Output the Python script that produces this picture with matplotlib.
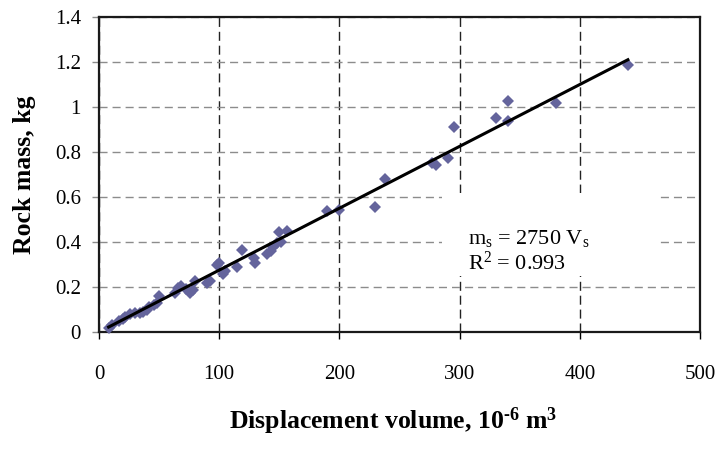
import numpy as np
import matplotlib
matplotlib.use("Agg")
import matplotlib.pyplot as plt
from matplotlib.patches import Rectangle
from matplotlib.ticker import FuncFormatter

plt.rcParams['font.family'] = ['Liberation Serif', 'DejaVu Serif']
plt.rcParams['mathtext.fontset'] = 'custom'
plt.rcParams['mathtext.rm'] = 'Liberation Serif'
plt.rcParams['mathtext.bf'] = 'Liberation Serif:bold'
plt.rcParams['mathtext.it'] = 'Liberation Serif:italic'

# displacement volume (1e-6 m^3) and rock mass (kg)
vol = [8, 11, 17, 20, 22, 26, 30, 34, 37, 40, 42, 46, 48, 50,
       63, 66, 68, 72, 76, 78, 80, 90, 92, 98, 100, 103, 105, 115,
       119, 129, 130, 140, 143, 145, 148, 150, 151, 156,
       190, 200, 230, 238, 277, 280, 290, 295, 330, 340, 340, 380, 440]
mass = [0.02, 0.03, 0.05, 0.06, 0.065, 0.08, 0.085, 0.085, 0.09, 0.10, 0.11, 0.12, 0.13, 0.16,
        0.175, 0.195, 0.205, 0.19, 0.175, 0.185, 0.225, 0.22, 0.228, 0.30, 0.305, 0.258, 0.27, 0.29,
        0.365, 0.33, 0.305, 0.345, 0.36, 0.38, 0.395, 0.445, 0.40, 0.45,
        0.538, 0.542, 0.555, 0.678, 0.75, 0.744, 0.775, 0.91, 0.95, 1.025, 0.937, 1.016, 1.185]

slope = 2750  # kg/m^3
xticks = [0, 100, 200, 300, 400, 500]
yticks = [0, 0.2, 0.4, 0.6, 0.8, 1.0, 1.2, 1.4]

fig = plt.figure(figsize=(7.15, 4.59), dpi=100)
ax = fig.add_axes([99/715, 1-332/459, 601/715, 315/459])

ax.set_xlim(0, 500)
ax.set_ylim(0, 1.4)
ax.set_xticks(xticks)
ax.set_yticks(yticks)
fmt = FuncFormatter(lambda v, p: '%g' % v)
ax.xaxis.set_major_formatter(fmt)
ax.yaxis.set_major_formatter(fmt)

ax.set_axisbelow(True)
ax.xaxis.grid(True, color='#222222', lw=1.0, ls=(0, (6.5, 3.5)))
ax.yaxis.grid(True, color='#8c8c8c', lw=1.0, ls=(0, (5.8, 3.6)))

for s in ax.spines.values():
    s.set_linewidth(1.6)
    s.set_color('#1a1a1a')

ax.tick_params(axis='x', direction='out', length=5, width=1, color='black',
               labelsize=15, pad=19)
ax.tick_params(axis='y', direction='out', length=5, width=1, color='#8c8c8c',
               labelsize=15, pad=8)

# white label box that hides the grid behind the equation
ax.add_patch(Rectangle((285, 0.25), 178, 0.37, facecolor='white',
                       edgecolor='none', zorder=1))

ax.plot(vol, mass, ls='none', marker='D', ms=6.3, mew=0, color='#64649c',
        zorder=3, clip_on=False)

xfit = np.array([min(vol), max(vol)])
ax.plot(xfit, slope * xfit * 1e-6, color='black', lw=2.2, zorder=4)

ax.text(307, 0.39, r'm$_\mathrm{s}$ = 2750 V$_\mathrm{s}$', fontsize=16,
        ha='left', va='baseline', zorder=5)
ax.text(307, 0.275, r'R$^\mathrm{2}$ = 0.993', fontsize=16,
        ha='left', va='baseline', zorder=5)

fig.text(25/715, 1-175/459, 'Rock mass, kg', rotation=90, fontsize=18.5,
         fontweight='bold', ha='center', va='center')
fig.text(393/715, 1-429/459,
         'Displacement volume, 10$^{\\mathbf{\u20106}}$ m$^{\\mathbf{3}}$',
         fontsize=18.5, fontweight='bold', ha='center', va='baseline')

fig.savefig('out.png', dpi=100)
